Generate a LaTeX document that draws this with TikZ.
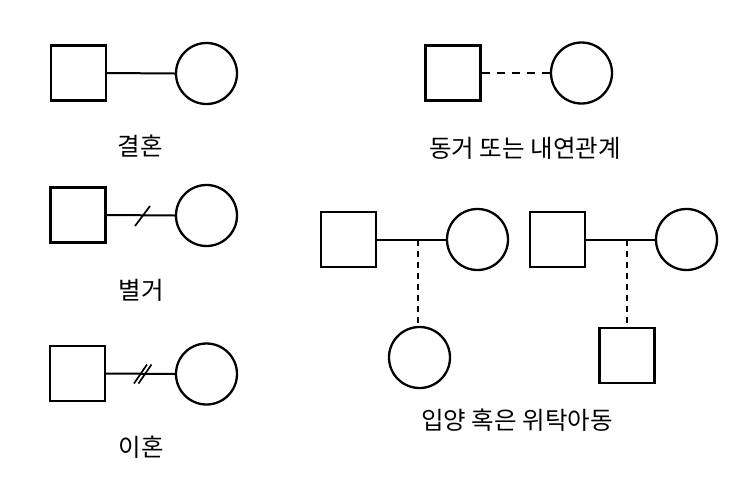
\documentclass[tikz,border=0pt]{standalone}
\usepackage{fontspec}
\newfontfamily\kr{Noto Sans CJK KR}
\begin{document}
\begin{tikzpicture}[x=1pt,y=-1pt,
  sq/.style={draw,line width=2.3pt,rectangle,minimum size=55pt,inner sep=0pt},
  ci/.style={draw,line width=2.3pt,circle,minimum size=61pt,inner sep=0pt},
  rel/.style={line width=2pt},
  reldash/.style={line width=2pt,dash pattern=on 8pt off 7pt},
  childdash/.style={line width=1.6pt,dash pattern=on 6pt off 5pt},
  slash/.style={line width=1.7pt},
  lbl/.style={font=\kr\fontsize{24.5pt}{28pt}\selectfont,inner sep=0pt}]
\useasboundingbox (0,0) rectangle (740,483);
% marriage
\node[sq] (s1) at (78.5,73) {};
\node[ci] (c1) at (206.5,73.5) {};
\draw[rel] (s1.east) -- (c1.west);
\node[lbl] (t1) at (140,146) {결혼};
% separation
\node[sq] (s2) at (78,215) {};
\node[ci] (c2) at (206.5,215.5) {};
\draw[rel] (s2.east) -- (c2.west);
\coordinate (m2) at (142.5,216);
\draw[slash] ([shift={(-7.5,10)}]m2) -- ([shift={(7.5,-10)}]m2);
\node[lbl] (t2) at (141,290) {별거};
% divorce
\node[sq] (s3) at (77.5,373.5) {};
\node[ci] (c3) at (206.5,374) {};
\draw[rel] (s3.east) -- (c3.west);
\coordinate (m3a) at (140.5,374);
\coordinate (m3b) at (145,374);
\draw[slash] ([shift={(-6.5,9.5)}]m3a) -- ([shift={(6.5,-9.5)}]m3a);
\draw[slash] ([shift={(-6.5,9.5)}]m3b) -- ([shift={(6.5,-9.5)}]m3b);
\node[lbl] (t3) at (141,447) {이혼};
% cohabitation
\node[sq] (s4) at (453,73) {};
\node[ci] (c4) at (581.5,73) {};
\draw[reldash] (s4.east) -- (c4.west);
\node[lbl] (t4) at (525,148) {동거 또는 내연관계};
% adoption / foster
\node[sq] (s5) at (348.5,239.5) {};
\node[ci] (c5) at (477.5,239.5) {};
\draw[rel] (s5.east) -- (c5.west);
\coordinate (j5) at (418,239.5);
\node[ci] (k5) at (419.5,357.5) {};
\draw[childdash] (j5) -- (j5 |- k5.north);
\node[sq] (s6) at (557.5,239.5) {};
\node[ci] (c6) at (686.5,239.5) {};
\draw[rel] (s6.east) -- (c6.west);
\coordinate (j6) at (627,239.5);
\node[sq] (k6) at (627,355.5) {};
\draw[childdash] (j6) -- (k6.north);
\node[lbl] (t5) at (517,420) {입양 혹은 위탁아동};
\end{tikzpicture}
\end{document}
